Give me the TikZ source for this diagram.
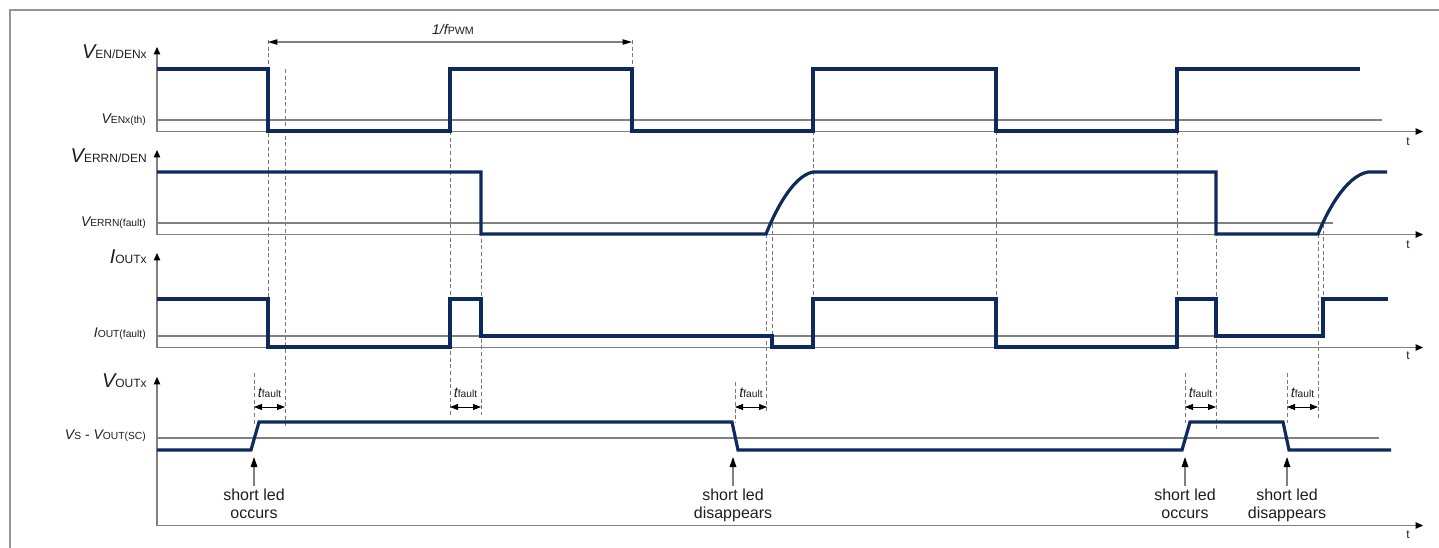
\documentclass[tikz,border=0pt]{standalone}
\usepackage{fontspec}
\setmainfont{Liberation Sans}
\usetikzlibrary{arrows.meta}
\definecolor{sig}{RGB}{14,42,92}
\definecolor{axisgray}{RGB}{128,128,128}
\definecolor{dashgray}{RGB}{120,120,120}
\definecolor{framegray}{RGB}{150,150,150}
\definecolor{txt}{RGB}{30,30,30}
\newcommand\biglbl[2]{{\fontsize{15}{15}\selectfont\itshape #1}{\fontsize{9}{9}\selectfont #2}}
\newcommand\smlbl[2]{{\fontsize{10.5}{10.5}\selectfont\itshape #1}{\fontsize{7.7}{7.7}\selectfont #2}}
\newcommand\tflt{{\fontsize{11}{11}\selectfont\itshape t}{\fontsize{7.7}{7.7}\selectfont fault}}
\tikzset{
  frameline/.style={draw=framegray, line width=1pt},
  axisline/.style={draw=axisgray, line width=0.85pt, -{Triangle[length=5.5pt,width=4.8pt,color=black,fill=black]}},
  thr/.style={draw=axisgray, line width=0.8pt},
  dline/.style={draw=dashgray, line width=0.65pt, dash pattern=on 3pt off 2pt},
  signal/.style={draw=sig, line width=2.4pt, line join=miter, line cap=butt},
  dimarrow/.style={draw=black, line width=0.65pt, {Triangle[length=6pt,width=4.5pt]}-{Triangle[length=6pt,width=4.5pt]}},
  pwmarrow/.style={draw=axisgray, line width=0.85pt, {Triangle[length=7pt,width=4pt,color=black,fill=black]}-{Triangle[length=7pt,width=4pt,color=black,fill=black]}},
  ledarrow/.style={draw=axisgray, line width=0.85pt, -{Triangle[length=7.5pt,width=5pt,color=black,fill=black]}},
  lbl/.style={anchor=base east, inner sep=0pt, text=txt},
  ledtxt/.style={anchor=base, inner sep=1.5pt, text=txt, font=\fontsize{12}{12}\selectfont},
  tlbl/.style={inner sep=0pt, text=txt, font=\fontsize{9}{9}\selectfont},
  flbl/.style={anchor=base, inner sep=0pt, text=txt}
}
\begin{document}
\begin{tikzpicture}[x=0.75pt,y=-0.75pt]
\useasboundingbox (0,0) rectangle (1439,547);
\draw[frameline] (10,550) -- (10,10) -- (1442,10);

% ---------- axes ----------
\coordinate (o1) at (157,131.5); \coordinate (ya1) at (157,47); \coordinate (xa1) at (1423,131.5);
\coordinate (o2) at (157,234.5); \coordinate (ya2) at (157,150); \coordinate (xa2) at (1423,234.5);
\coordinate (o3) at (157,347.5); \coordinate (ya3) at (157,253); \coordinate (xa3) at (1423,347.5);
\coordinate (o4) at (157,525.5); \coordinate (ya4) at (157,377); \coordinate (xa4) at (1423,525.5);
\foreach \i in {1,2,3,4}{
  \draw[axisline] (o\i) -- (ya\i);
  \draw[axisline] (o\i) -- (xa\i);
}
\node[tlbl] (t1) at (1408,142) {t};
\node[tlbl] (t2) at (1408,245) {t};
\node[tlbl] (t3) at (1408,356) {t};
\node[tlbl] (t4) at (1408,535) {t};

% ---------- threshold lines ----------
\draw[thr] (157,120) -- (1382,120);
\draw[thr] (157,223) -- (1333,223);
\draw[thr] (157,336) -- (1323,336);
\draw[thr] (157,438) -- (1379,438);

% ---------- axis labels ----------
\node[lbl] (lEN)   at (147,58)  {\biglbl{V}{EN/DENx}};
\node[lbl] (lENth) at (146,123) {\smlbl{V}{ENx(th)}};
\node[lbl] (lERR)  at (147,162) {\biglbl{V}{ERRN/DEN}};
\node[lbl] (lERRf) at (146,226) {\smlbl{V}{ERRN(fault)}};
\node[lbl] (lIO)   at (147,263) {\biglbl{I}{OUTx}};
\node[lbl] (lIOf)  at (146,337) {\smlbl{I}{OUT(fault)}};
\node[lbl] (lVO)   at (147,387) {\biglbl{V}{OUTx}};
\node[lbl] (lVOsc) at (146,439) {\smlbl{V}{S}{\fontsize{10.5}{10.5}\selectfont\ -\ }\smlbl{V}{OUT(SC)}};

% ---------- dashed guide lines ----------
\draw[dline] (268,40) -- (268,347);
\draw[dline] (285,69) -- (285,428);
\draw[dline] (450,131) -- (450,415);
\draw[dline] (481,172) -- (481,415);
\draw[dline] (632,40) -- (632,69);
\draw[dline] (766.5,234) -- (766.5,413);
\draw[dline] (772,224) -- (772,347);
\draw[dline] (813,131) -- (813,299);
\draw[dline] (996,131) -- (996,347);
\draw[dline] (1177,131) -- (1177,299);
\draw[dline] (1216,172) -- (1216,430);
\draw[dline] (1318,234) -- (1318,418);
\draw[dline] (1323,224) -- (1323,336);
\draw[dline] (254,373) -- (254,424);
\draw[dline] (735,382) -- (735,423);
\draw[dline] (1185,373) -- (1185,423);
\draw[dline] (1287,373) -- (1287,423);

% ---------- 1/fPWM ----------
\coordinate (p1) at (268,42);
\coordinate (p2) at (632,42);
\draw[pwmarrow] (p1) -- (p2);
\node[flbl] (lpwm) at (453,34) {{\fontsize{10.5}{10.5}\selectfont\itshape 1/f}{\fontsize{8}{8}\selectfont PWM}};

% ---------- tfault dimensions ----------
\foreach \a/\b/\n in {254/285/1, 450/481/2, 735/767/3, 1185/1216/4, 1287/1318/5}{
  \coordinate (fa\n) at (\a,407);
  \coordinate (fb\n) at (\b,407);
  \draw[dimarrow] (fa\n) -- (fb\n);
  \node[flbl] (tf\n) at ({(\a+\b)/2},397) {\tflt};
}

% ---------- signals ----------
\draw[signal] (157,69) -- (268,69) -- (268,131) -- (450,131) -- (450,69) -- (632,69) -- (632,131)
  -- (813,131) -- (813,69) -- (996,69) -- (996,131) -- (1177,131) -- (1177,69) -- (1360,69);

\draw[signal] (157,172) -- (481,172) -- (481,234) -- (766,234)
  .. controls (774,214) and (792,176) .. (813,172) -- (1216,172) -- (1216,234) -- (1318,234)
  .. controls (1326,214) and (1345,176) .. (1368,172) -- (1387,172);

\draw[signal] (157,299) -- (268,299) -- (268,347) -- (450,347) -- (450,299) -- (481,299) -- (481,336)
  -- (772,336) -- (772,347) -- (813,347) -- (813,299) -- (996,299) -- (996,347) -- (1177,347)
  -- (1177,299) -- (1216,299) -- (1216,336) -- (1323,336) -- (1323,299) -- (1388,299);

\draw[signal] (157,450) -- (251,450) -- (259,422) -- (732,422) -- (738,450) -- (1182,450)
  -- (1190,422) -- (1283,422) -- (1289,450) -- (1391,450);

% ---------- event annotations ----------
\foreach \x/\n/\w in {254/1/occurs, 733/2/disappears, 1185/3/occurs, 1287/4/disappears}{
  \node[ledtxt] (sa\n) at (\x,500) {short led};
  \node[ledtxt] (sb\n) at (\x,518) {\w};
  \coordinate (st\n) at (\x,457);
  \draw[ledarrow] (sa\n.north) -- (st\n);
}
\end{tikzpicture}
\end{document}
